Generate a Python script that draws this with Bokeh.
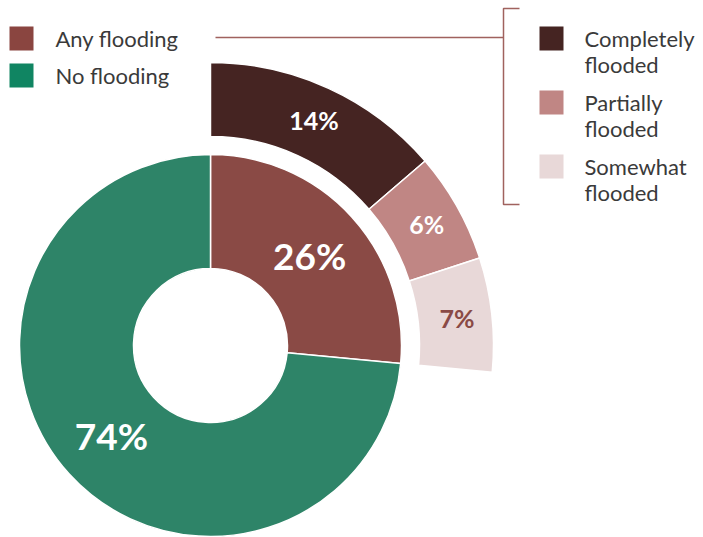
import math
from bokeh.plotting import figure
from bokeh.models import Range1d, ColumnDataSource
from bokeh.core.properties import value
from bokeh.embed import file_html
from bokeh.resources import INLINE

# ---- data ----
inner_labels = ["Any flooding", "No flooding"]
inner_values = [26.5, 73.5]
inner_text = ["26%", "74%"]
inner_colors = ["#8a4a45", "#2e8468"]
legend_inner_colors = ["#8a4540", "#108562"]

outer_labels = ["Completely\nflooded", "Partially\nflooded", "Somewhat\nflooded"]
outer_values = [13.7, 6.3, 6.5]
outer_text = ["14%", "6%", "7%"]
outer_colors = ["#452422", "#c08684", "#e8d8d8"]
outer_text_colors = ["#ffffff", "#ffffff", "#8a4a45"]

W, H = 703, 537
FONT = "Lato"

def Y(py):
    return H - py

p = figure(width=W, height=H, output_backend="svg", toolbar_location=None,
           x_range=Range1d(0, W), y_range=Range1d(0, H), min_border=0)
p.axis.visible = False
p.grid.visible = False
p.outline_line_color = None
p.background_fill_color = "white"
p.border_fill_color = "white"

cx, cy = 210, Y(345)

def ring(values, r0, r1, colors, texts, tcolors, tr, fsize, style):
    starts, ends, tx, ty = [], [], [], []
    cum = 0.0
    for v in values:
        a_start = math.radians(90 - (cum + v) * 3.6)
        a_end = math.radians(90 - cum * 3.6)
        starts.append(a_start)
        ends.append(a_end)
        mid = (a_start + a_end) / 2
        tx.append(cx + tr * math.cos(mid))
        ty.append(cy + tr * math.sin(mid))
        cum += v
    src = ColumnDataSource(dict(s=starts, e=ends, c=colors, tx=tx, ty=ty, t=texts, tc=tcolors))
    p.annular_wedge(x=cx, y=cy, inner_radius=r0, outer_radius=r1, start_angle="s", end_angle="e",
                    fill_color="c", line_color="white", line_width=1.5, source=src)
    p.text(x="tx", y="ty", text="t", text_color="tc", text_font=value(FONT), text_font_size=fsize,
           text_font_style=style, text_align="center", text_baseline="middle", source=src)

ring(inner_values, 77, 191, inner_colors, inner_text, ["#ffffff", "#ffffff"], 134, "37px", "bold")
ring(outer_values, 209, 283, outer_colors, outer_text, outer_text_colors, 248, "25px", "bold")

# left legend
for i, (lab, col) in enumerate(zip(inner_labels, legend_inner_colors)):
    yc = 38 + i * 37
    p.rect(x=21, y=Y(yc), width=24, height=24, fill_color=col, line_color=None)
    p.text(x=[55], y=[Y(yc)], text=[lab], text_color="#3a3a3a", text_font=value(FONT),
           text_font_size="22px", text_baseline="middle", text_align="left")

# right legend
for i, (lab, col) in enumerate(zip(outer_labels, outer_colors)):
    yc = 38 + i * 64
    p.rect(x=551, y=Y(yc), width=24, height=24, fill_color=col, line_color=None)
    for j, line in enumerate(lab.split("\n")):
        p.text(x=[584], y=[Y(yc + j * 26)], text=[line], text_color="#3a3a3a", text_font=value(FONT),
               text_font_size="22px", text_baseline="middle", text_align="left")

# bracket connector
bc = "#a0625e"
p.line(x=[215, 503], y=[Y(37), Y(37)], line_color=bc, line_width=1.5)
p.line(x=[519, 503, 503, 519], y=[Y(8), Y(8), Y(204), Y(204)], line_color=bc, line_width=1.5)

open("out.html", "w").write(file_html(p, INLINE))
